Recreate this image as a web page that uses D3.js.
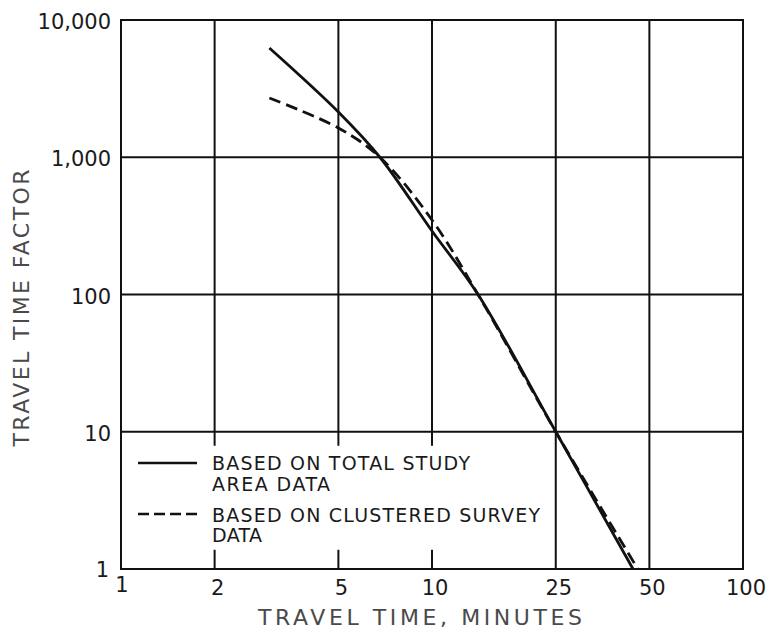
<!DOCTYPE html>
<html>
<head>
<meta charset="utf-8">
<style>
    body { margin: 0; background: #fff; }
    svg text { font-family: "DejaVu Sans", sans-serif; fill: #1a1a1a; }
    .grid line { stroke: #111; stroke-width: 2; }
    .curve { fill: none; stroke: #111; stroke-width: 2.8; }
    .title { fill: #4a4a4a; }
</style>
</head>
<body>
<svg width="772" height="630"></svg>
<script src="https://cdn.jsdelivr.net/npm/d3@7"></script>
<script>
    // values
    var xTicks = [1, 2, 5, 10, 25, 50, 100];
    var xTickLabels = ["1", "2", "5", "10", "25", "50", "100"];
    var yTicks = [1, 10, 100, 1000, 10000];
    var yTickLabels = ["1", "10", "100", "1,000", "10,000"];

    // total study area data (solid)
    var totalMinutes = [3, 5, 6.8, 10, 14.06, 25, 44.3];
    var totalFactor = [6250, 2137, 1000, 290, 100, 10, 1];

    // clustered survey data (dashed)
    var clusterMinutes = [3, 5, 6.8, 10, 14.06, 25, 45.9];
    var clusterFactor = [2700, 1634, 1000, 349, 100, 10, 1];

    var legendLines = [
        ["BASED ON TOTAL STUDY", "AREA DATA"],
        ["BASED ON CLUSTERED SURVEY", "DATA"]
    ];

    var svg = d3.select("svg");
    var plotLeft = 121, plotRight = 743, plotTop = 20, plotBottom = 569;

    var x = d3.scaleLog().domain([1, 100]).range([plotLeft, plotRight]);
    var y = d3.scaleLog().domain([1, 10000]).range([plotBottom, plotTop]);

    var grid = svg.append("g").attr("class", "grid");
    grid.selectAll(".v").data(xTicks).enter().append("line")
        .attr("x1", d => x(d)).attr("x2", d => x(d))
        .attr("y1", plotTop - 1).attr("y2", plotBottom + 1);
    grid.selectAll(".h").data(yTicks).enter().append("line")
        .attr("x1", plotLeft - 1).attr("x2", plotRight + 1)
        .attr("y1", d => y(d)).attr("y2", d => y(d));

    // legend sits on a white patch that hides the grid under it
    svg.append("rect")
        .attr("x", plotLeft + 1.5).attr("y", y(10) + 14)
        .attr("width", 425).attr("height", 104)
        .attr("fill", "#fff");
    // the left edge of the frame stays
    svg.append("line").attr("x1", plotLeft).attr("x2", plotLeft)
        .attr("y1", plotTop - 1).attr("y2", plotBottom + 1)
        .attr("stroke", "#111").attr("stroke-width", 2);

    // tick labels
    svg.selectAll(".yl").data(yTicks).enter().append("text")
        .attr("x", d => d === 1 ? 109 : 111)
        .attr("y", d => y(d) + (d === 1 ? 8 : 9))
        .attr("text-anchor", "end")
        .attr("font-size", 21)
        .text((d, i) => yTickLabels[i]);

    svg.selectAll(".xl").data(xTicks).enter().append("text")
        .attr("x", d => d === 1 ? x(d) + 1 : x(d) + 3)
        .attr("y", d => d === 1 ? 592 : 595)
        .attr("text-anchor", "middle")
        .attr("font-size", 21)
        .text((d, i) => xTickLabels[i]);

    // axis titles
    svg.append("text").attr("class", "title")
        .attr("x", 420).attr("y", 625)
        .attr("text-anchor", "middle")
        .attr("font-size", 22)
        .attr("textLength", 324).attr("lengthAdjust", "spacing")
        .text("TRAVEL TIME, MINUTES");

    svg.append("text").attr("class", "title")
        .attr("transform", "translate(29,308) rotate(-90)")
        .attr("text-anchor", "middle")
        .attr("font-size", 22)
        .attr("textLength", 277).attr("lengthAdjust", "spacing")
        .text("TRAVEL TIME FACTOR");

    // curves
    var line = d3.line()
        .x(d => x(d[0]))
        .y(d => y(d[1]))
        .curve(d3.curveCatmullRom.alpha(0.5));

    svg.append("path").attr("class", "curve")
        .attr("d", line(d3.zip(totalMinutes, totalFactor)));
    svg.append("path").attr("class", "curve")
        .attr("stroke-dasharray", "12,6")
        .attr("d", line(d3.zip(clusterMinutes, clusterFactor)));

    // legend
    var lg = svg.append("g");
    lg.append("line").attr("x1", 138).attr("x2", 197)
        .attr("y1", 463).attr("y2", 463)
        .attr("stroke", "#111").attr("stroke-width", 2.6);
    lg.append("line").attr("x1", 138).attr("x2", 197)
        .attr("y1", 514).attr("y2", 514)
        .attr("stroke", "#111").attr("stroke-width", 2.6)
        .attr("stroke-dasharray", "11,5");

    var lgY = [[470, 491], [522, 542]];
    var lgW = [[258, 118], [328, 50]];
    legendLines.forEach(function (pair, i) {
        pair.forEach(function (t, j) {
            lg.append("text")
                .attr("x", 212).attr("y", lgY[i][j])
                .attr("font-size", 19)
                .attr("textLength", lgW[i][j]).attr("lengthAdjust", "spacing")
                .text(t);
        });
    });
</script>
</body>
</html>
